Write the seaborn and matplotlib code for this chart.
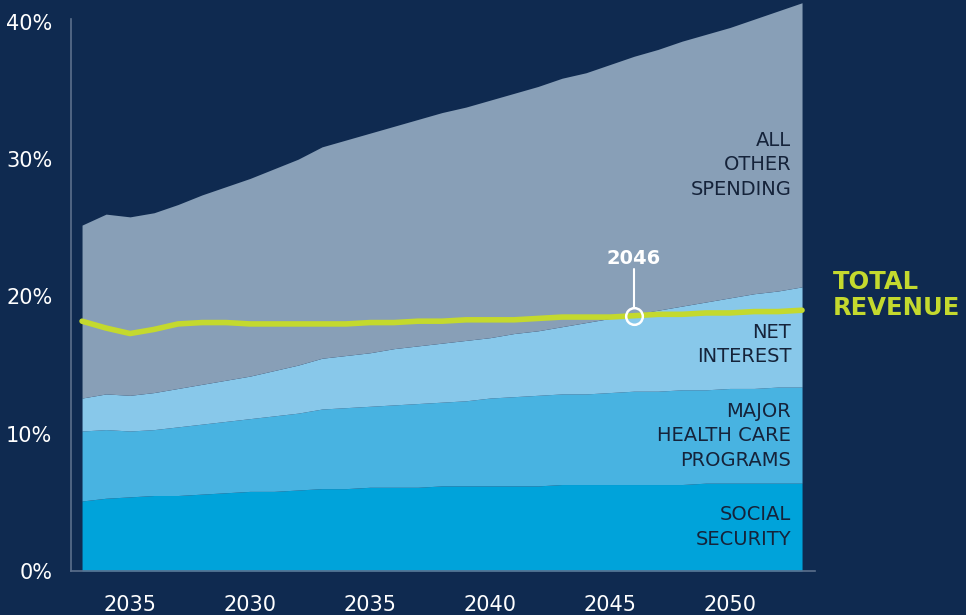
import matplotlib
matplotlib.use('Agg')
import matplotlib.pyplot as plt
import numpy as np
import pandas as pd
import seaborn as sns

sns.set_style('white')
plt.rcParams['font.family'] = ['DejaVu Sans']

# Share of GDP (%) by year
years = list(range(2023, 2054))
social_security = [5.1, 5.3, 5.4, 5.5, 5.5, 5.6, 5.7, 5.8, 5.8, 5.9, 6.0, 6.0, 6.1, 6.1, 6.1, 6.2,
                   6.2, 6.2, 6.2, 6.2, 6.3, 6.3, 6.3, 6.3, 6.3, 6.3, 6.4, 6.4, 6.4, 6.4, 6.4]
health_care = [5.1, 5.0, 4.8, 4.8, 5.0, 5.1, 5.2, 5.3, 5.5, 5.6, 5.8, 5.9, 5.9, 6.0, 6.1, 6.1,
               6.2, 6.4, 6.5, 6.6, 6.6, 6.6, 6.7, 6.8, 6.8, 6.9, 6.8, 6.9, 6.9, 7.0, 7.0]
net_interest = [2.4, 2.6, 2.6, 2.7, 2.8, 2.9, 3.0, 3.1, 3.3, 3.5, 3.7, 3.8, 3.9, 4.1, 4.2, 4.3,
                4.4, 4.4, 4.6, 4.7, 4.9, 5.2, 5.4, 5.6, 5.9, 6.1, 6.4, 6.6, 6.9, 7.0, 7.3]
other_spending = [12.6, 13.1, 13.0, 13.1, 13.4, 13.8, 14.1, 14.4, 14.7, 15.0, 15.4, 15.7, 16.0,
                  16.2, 16.5, 16.8, 17.0, 17.3, 17.5, 17.8, 18.1, 18.2, 18.5, 18.8, 19.0, 19.3,
                  19.5, 19.7, 20.0, 20.4, 20.7]
total_revenue = [18.2, 17.7, 17.3, 17.6, 18.0, 18.1, 18.1, 18.0, 18.0, 18.0, 18.0, 18.0, 18.1,
                 18.1, 18.2, 18.2, 18.3, 18.3, 18.3, 18.4, 18.5, 18.5, 18.5, 18.6, 18.7, 18.7,
                 18.8, 18.8, 18.9, 18.9, 19.0]

crossover_year = 2046
x_ticks = [2025, 2030, 2035, 2040, 2045, 2050]
x_tick_labels = ['2035', '2030', '2035', '2040', '2045', '2050']
y_ticks = [0, 10, 20, 30, 40]
y_tick_labels = ['0%', '10%', '20%', '30%', '40%']

layer_labels = ['SOCIAL\nSECURITY', 'MAJOR\nHEALTH CARE\nPROGRAMS', 'NET\nINTEREST',
                'ALL\nOTHER\nSPENDING']
layer_label_y = [3.2, 9.85, 16.5, 29.6]

bg = '#0f2a50'
layer_colors = ['#00a3da', '#48b3e1', '#88c8ea', '#889fb7']
lime = '#c4d92e'
axis_gray = '#5b6f8c'
label_dark = '#15233a'

df = pd.DataFrame({'year': years, 'revenue': total_revenue})

fig = plt.figure(figsize=(9.66, 6.15), dpi=100, facecolor=bg)
ax = fig.add_axes([71 / 966, 44 / 615, 744 / 966, 571 / 615])
ax.set_facecolor(bg)

ax.stackplot(years, social_security, health_care, net_interest, other_spending,
             colors=layer_colors, linewidth=0)
sns.lineplot(data=df, x='year', y='revenue', color=lime, linewidth=4, ax=ax,
             solid_capstyle='round', zorder=5)

# crossover marker
idx = years.index(crossover_year)
cross_y = total_revenue[idx]
ax.plot([crossover_year], [cross_y], marker='o', markersize=12, markerfacecolor='none',
        markeredgecolor='white', markeredgewidth=1.8, zorder=6)
ax.plot([crossover_year, crossover_year], [cross_y + 0.6, 22.0], color='white', lw=1.5, zorder=6)
ax.text(crossover_year, 22.8, str(crossover_year), color='white', fontsize=14,
        fontweight='bold', ha='center', va='center')

for lab, ly in zip(layer_labels, layer_label_y):
    ax.text(2052.55, ly, lab, color=label_dark, fontsize=14, ha='right', va='center',
            linespacing=1.36)

ax.text(2054.3, 20.1, 'TOTAL\nREVENUE', color=lime, fontsize=17.5, fontweight='bold',
        ha='left', va='center', linespacing=1.13, clip_on=False)

ax.set_xlim(2022.54, 2053.54)
ax.set_ylim(0, 41.6)
ax.set_xticks(x_ticks)
ax.set_xticklabels(x_tick_labels)
ax.set_yticks(y_ticks)
ax.set_yticklabels(y_tick_labels)
ax.tick_params(axis='both', length=0, colors='white', labelsize=15)
ax.tick_params(axis='x', pad=17)
ax.tick_params(axis='y', pad=13.5)
ax.set_xlabel('')
ax.set_ylabel('')

for side in ['top', 'right']:
    ax.spines[side].set_visible(False)
for side in ['left', 'bottom']:
    ax.spines[side].set_color(axis_gray)
    ax.spines[side].set_linewidth(1.2)
ax.spines['left'].set_bounds(0, 40.2)

fig.savefig('out.png', dpi=100, facecolor=bg)
